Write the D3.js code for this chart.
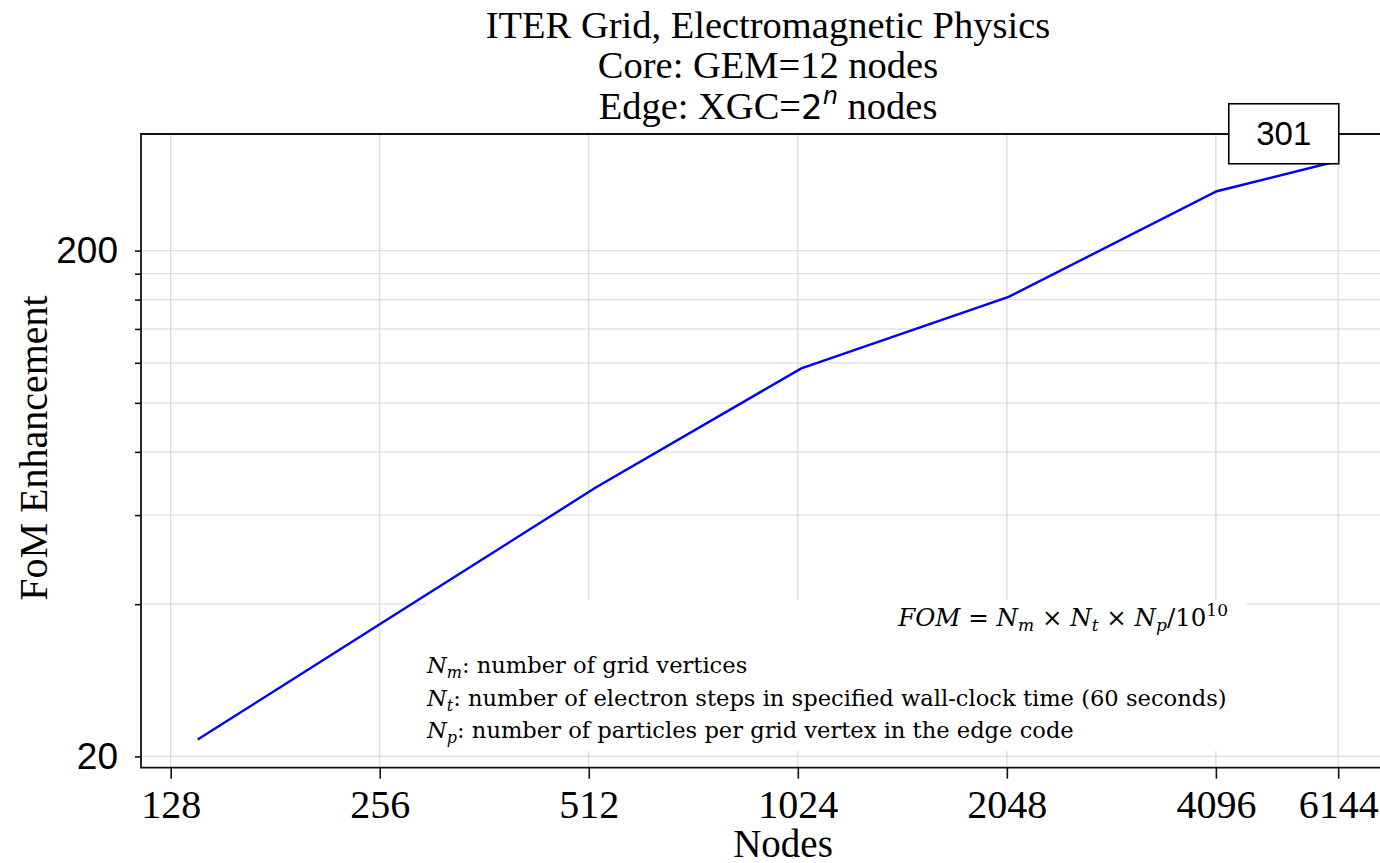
<!DOCTYPE html>
<html>
<head>
<meta charset="utf-8">
<script src="https://cdn.jsdelivr.net/npm/d3@7"></script>
<style>
body { margin: 0; background: #fff; }
svg { display: block; }
</style>
</head>
<body>
<div id="Main_Part"></div>
<script>
// data (total nodes = XGC 2^n + 12 GEM nodes)
var NodeCount = [140, 268, 524, 1036, 2060, 4108, 6156];
var FomValue = [21.6, 38.0, 68.0, 117, 162, 262, 301];
var XTickValues = [128, 256, 512, 1024, 2048, 4096, 6144];
var YGridValues = [20, 40, 60, 80, 100, 120, 140, 160, 180, 200];
var YTickLabels = [20, 200];
var TitleLines = ["ITER Grid, Electromagnetic Physics", "Core: GEM=12 nodes"];
var NoteLines = [
	["m", ": number of grid vertices"],
	["t", ": number of electron steps in specified wall-clock time (60 seconds)"],
	["p", ": number of particles per grid vertex in the edge code"]
];
var PeakLabel = "301";

var windowWidth = 1380, windowHeight = 863;
var SerifFont = "'Liberation Serif', 'Times New Roman', serif";
var MathFont = "'DejaVu Serif', serif";
var SansFont = "'Liberation Sans', Arial, sans-serif";
var PlotLeft = 141, PlotRight = 1380, PlotTop = 134, PlotBottom = 767.7;

var svg = d3.select('#Main_Part')
	.append("svg")
	.attr("width", windowWidth)
	.attr("height", windowHeight);

var x = d3.scaleLog().base(2)
	.domain([116, 7058])
	.range([PlotLeft, PlotRight]);

var y = d3.scaleLog()
	.domain([19.0, 340])
	.range([PlotBottom, PlotTop]);

// grid
svg.append("g")
	.selectAll("line")
	.data(YGridValues)
	.enter()
	.append("line")
	.attr("x1", PlotLeft)
	.attr("x2", PlotRight)
	.attr("y1", function(d){ return y(d); })
	.attr("y2", function(d){ return y(d); })
	.style("stroke", "#e0e0e0")
	.style("stroke-width", 1.3);

svg.append("g")
	.selectAll("line")
	.data(XTickValues)
	.enter()
	.append("line")
	.attr("x1", function(d){ return x(d); })
	.attr("x2", function(d){ return x(d); })
	.attr("y1", PlotTop)
	.attr("y2", PlotBottom)
	.style("stroke", "#d8d8d8")
	.style("stroke-width", 1.2);

// the line
var line = d3.line()
	.x(function(d, i){ return x(NodeCount[i]); })
	.y(function(d){ return y(d); });

svg.append("path")
	.datum(FomValue)
	.attr("d", line)
	.style("fill", "none")
	.style("stroke", "#0000ff")
	.style("stroke-width", 2.4);

// axes
var xAxis = svg.append("g")
	.attr("transform", "translate(0," + PlotBottom + ")")
	.call(d3.axisBottom(x).tickValues(XTickValues).tickFormat(d3.format("d")).tickSize(11).tickPadding(11));
xAxis.select(".domain").remove();
xAxis.selectAll("line").style("stroke", "#111").style("stroke-width", 1.6);
xAxis.selectAll("text")
	.style("font-family", SerifFont)
	.style("font-size", "40px")
	.style("fill", "#000");

var yAxis = svg.append("g")
	.attr("transform", "translate(" + PlotLeft + ",0)")
	.call(d3.axisLeft(y).tickValues(YGridValues).tickSize(6).tickPadding(17)
		.tickFormat(function(d){ return YTickLabels.indexOf(d) >= 0 ? d : ""; }));
yAxis.select(".domain").remove();
yAxis.selectAll("line").style("stroke", "#111").style("stroke-width", 1.6);
yAxis.selectAll("text")
	.style("font-family", SansFont)
	.style("font-size", "37px")
	.style("fill", "#000");

// frame
svg.append("path")
	.attr("d", "M" + PlotRight + "," + PlotTop + "H" + PlotLeft + "V" + PlotBottom + "H" + PlotRight)
	.style("fill", "none")
	.style("stroke", "#111")
	.style("stroke-width", 1.8);

// note box
var NoteGroup = svg.append("g");
NoteGroup.append("rect")
	.attr("x", 426)
	.attr("y", 600)
	.attr("width", 819)
	.attr("height", 151)
	.style("fill", "#fff");

var Formula = NoteGroup.append("text")
	.attr("x", 1228)
	.attr("y", 626)
	.style("text-anchor", "end")
	.style("font-family", MathFont)
	.style("font-size", "24.5px")
	.style("fill", "#000");
Formula.append("tspan").style("font-style", "italic").text("FOM");
Formula.append("tspan").text(" = ");
Formula.append("tspan").style("font-style", "italic").text("N");
Formula.append("tspan").style("font-style", "italic").style("font-size", "17px").attr("dy", 5).text("m");
Formula.append("tspan").attr("dy", -5).text(" \u00d7 ");
Formula.append("tspan").style("font-style", "italic").text("N");
Formula.append("tspan").style("font-style", "italic").style("font-size", "17px").attr("dy", 5).text("t");
Formula.append("tspan").attr("dy", -5).text(" \u00d7 ");
Formula.append("tspan").style("font-style", "italic").text("N");
Formula.append("tspan").style("font-style", "italic").style("font-size", "17px").attr("dy", 5).text("p");
Formula.append("tspan").attr("dy", -5).text("/10");
Formula.append("tspan").style("font-size", "17px").attr("dy", -10).text("10");

NoteGroup.selectAll("text.note")
	.data(NoteLines)
	.enter()
	.append("text")
	.attr("class", "note")
	.attr("x", 427)
	.attr("y", function(d, i){ return 673 + i * 32.5; })
	.style("font-family", MathFont)
	.style("font-size", "22.6px")
	.style("fill", "#000")
	.each(function(d){
		var t = d3.select(this);
		t.append("tspan").style("font-style", "italic").text("N");
		t.append("tspan").style("font-style", "italic").style("font-size", "16px").attr("dy", 5).text(d[0]);
		t.append("tspan").attr("dy", -5).text(d[1]);
	});

// peak label
var px = x(NodeCount[NodeCount.length - 1]), py = y(FomValue[FomValue.length - 1]);
svg.append("rect")
	.attr("x", px - 110)
	.attr("y", py - 57)
	.attr("width", 110)
	.attr("height", 60)
	.style("fill", "#fff")
	.style("stroke", "#000")
	.style("stroke-width", 1.6);
svg.append("text")
	.attr("x", px - 55)
	.attr("y", py - 16)
	.style("text-anchor", "middle")
	.style("font-family", SansFont)
	.style("font-size", "33px")
	.style("fill", "#000")
	.text(PeakLabel);

// titles
svg.selectAll("text.title")
	.data(TitleLines)
	.enter()
	.append("text")
	.attr("class", "title")
	.attr("x", 768)
	.attr("y", function(d, i){ return 38 + i * 40; })
	.style("text-anchor", "middle")
	.style("font-family", SerifFont)
	.style("font-size", "38.5px")
	.style("fill", "#000");

svg.selectAll("text.title").text(function(d){ return d; });

var Title3 = svg.append("text")
	.attr("x", 768)
	.attr("y", 119)
	.style("text-anchor", "middle")
	.style("font-family", SerifFont)
	.style("font-size", "38.5px")
	.style("fill", "#000");
Title3.append("tspan").text("Edge: XGC=");
Title3.append("tspan").style("font-family", "'DejaVu Sans', sans-serif").style("font-size", "34px").text("2");
Title3.append("tspan").style("font-family", "'DejaVu Sans', sans-serif").style("font-style", "italic").style("font-size", "24px").attr("dy", -15).text("n");
Title3.append("tspan").attr("dy", 15).text(" nodes");

// axis labels
svg.append("text")
	.attr("x", 783)
	.attr("y", 857)
	.style("text-anchor", "middle")
	.style("font-family", SerifFont)
	.style("font-size", "39px")
	.style("fill", "#000")
	.text("Nodes");

svg.append("text")
	.attr("transform", "translate(47,448) rotate(-90)")
	.style("text-anchor", "middle")
	.style("font-family", SerifFont)
	.style("font-size", "40px")
	.style("fill", "#000")
	.text("FoM Enhancement");
</script>
</body>
</html>
